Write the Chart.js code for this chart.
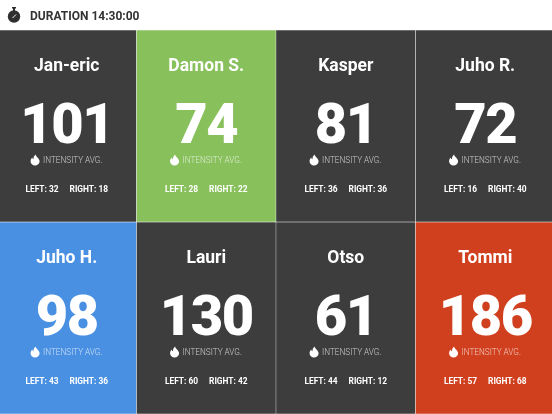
<!DOCTYPE html>
<html>
<head>
<meta charset="utf-8">
<style>
html, body { margin: 0; padding: 0; background: #fff; overflow: hidden; }
#wrap { position: absolute; left: -3px; top: 0; width: 558px; height: 414px; }
</style>
<script src="https://cdn.jsdelivr.net/npm/chart.js@4"></script>
</head>
<body>
<div id="wrap"><canvas id="tiles" width="558" height="414"></canvas></div>
<script>
const columns = ['1', '2', '3', '4'];
const names = ['Jan-eric', 'Damon S.', 'Kasper', 'Juho R.', 'Juho H.', 'Lauri', 'Otso', 'Tommi'];
const intensity = [101, 74, 81, 72, 98, 130, 61, 186];
const lefts = [32, 28, 36, 16, 43, 60, 44, 57];
const rights = [18, 22, 36, 40, 36, 42, 12, 68];
const topRow = [1, 1, 1, 1];
const bottomRow = [1, 1, 1, 1];
const duration = 'DURATION 14:30:00';

const DARK = '#3d3d3d';
const topColors = [DARK, '#88c05c', DARK, DARK];
const bottomColors = ['#4a90e2', DARK, DARK, '#d0401e'];

function drawFlame(ctx, x, y) {
    ctx.save();
    ctx.translate(x, y);
    ctx.scale(1, 1.1);
    ctx.fillStyle = '#fff';
    ctx.beginPath();
    ctx.moveTo(0.5, -5);
    ctx.bezierCurveTo(1, -2.5, 4.5, -1.5, 4.5, 1.2);
    ctx.bezierCurveTo(4.5, 3.6, 2.4, 5, 0, 5);
    ctx.bezierCurveTo(-2.4, 5, -4.5, 3.6, -4.5, 1.2);
    ctx.bezierCurveTo(-4.5, -0.4, -3.6, -1.4, -2.8, -2.2);
    ctx.bezierCurveTo(-2.6, -1.2, -2.2, -0.8, -1.6, -0.6);
    ctx.bezierCurveTo(-1.8, -2.4, -0.8, -4, 0.5, -5);
    ctx.closePath();
    ctx.fill();
    ctx.restore();
}

function drawStopwatch(ctx, x, y) {
    ctx.save();
    ctx.fillStyle = '#2f2f2f';
    ctx.beginPath();
    ctx.arc(x, y + 1.5, 6.2, 0, Math.PI * 2);
    ctx.fill();
    ctx.fillRect(x - 1, y - 7, 2, 4);
    ctx.fillRect(x - 2, y - 8, 4, 1.5);
    ctx.strokeStyle = '#fff';
    ctx.lineWidth = 1;
    ctx.beginPath();
    ctx.moveTo(x - 1.5, y + 3);
    ctx.lineTo(x + 2, y - 0.5);
    ctx.stroke();
    ctx.restore();
}

const tileText = {
    id: 'tileText',
    afterDatasetsDraw(chart) {
        const ctx = chart.ctx;
        ctx.save();
        ctx.textBaseline = 'alphabetic';

        ctx.textAlign = 'left';
        ctx.fillStyle = '#333';
        ctx.font = 'bold 12px Roboto';
        ctx.fillText(duration, 33, 19.5);
        drawStopwatch(ctx, 17, 15);

        chart.data.datasets.forEach((ds, d) => {
            chart.getDatasetMeta(d).data.forEach((bar, i) => {
                const k = d * 4 + i;
                const cx = bar.x;
                const top = Math.min(bar.y, bar.base);

                ctx.fillStyle = '#fff';
                ctx.textAlign = 'center';
                ctx.font = 'bold 17.5px Roboto';
                ctx.fillText(names[k], cx, top + 40.5);

                ctx.font = '900 56px Roboto';
                ctx.letterSpacing = '-1.5px';
                ctx.fillText(String(intensity[k]), cx, top + 113);
                ctx.letterSpacing = '0px';

                ctx.textAlign = 'left';
                ctx.font = '300 8.2px Roboto';
                const label = 'INTENSITY AVG.';
                const labelW = ctx.measureText(label).width;
                const startX = cx - (labelW + 12) / 2;
                drawFlame(ctx, startX + 4, top + 130);
                ctx.fillStyle = 'rgba(255,255,255,0.7)';
                ctx.fillText(label, startX + 12, top + 133);

                ctx.fillStyle = '#fff';
                ctx.font = 'bold 8.4px Roboto';
                const leftText = 'LEFT: ' + lefts[k];
                const rightText = 'RIGHT: ' + rights[k];
                const leftW = ctx.measureText(leftText).width;
                const rightW = ctx.measureText(rightText).width;
                const x0 = cx - (leftW + 11 + rightW) / 2;
                ctx.fillText(leftText, x0, top + 162);
                ctx.fillText(rightText, x0 + leftW + 11, top + 162);
            });
        });
        ctx.restore();
    }
};

new Chart(document.getElementById('tiles').getContext('2d'), {
    type: 'bar',
    data: {
        labels: columns,
        datasets: [
            { label: 'top', data: topRow, backgroundColor: topColors },
            { label: 'bottom', data: bottomRow, backgroundColor: bottomColors }
        ].map(ds => Object.assign(ds, {
            barPercentage: 1,
            categoryPercentage: 1,
            borderWidth: 0.5,
            borderColor: 'rgba(255,255,255,0.55)',
            borderSkipped: false
        }))
    },
    options: {
        responsive: false,
        animation: false,
        layout: { padding: { top: 30 } },
        plugins: { legend: { display: false }, tooltip: { enabled: false } },
        scales: {
            x: { display: false, stacked: true },
            y: { display: false, stacked: true, reverse: true, min: 0, max: 2 }
        }
    },
    plugins: [tileText]
});
</script>
</body>
</html>
